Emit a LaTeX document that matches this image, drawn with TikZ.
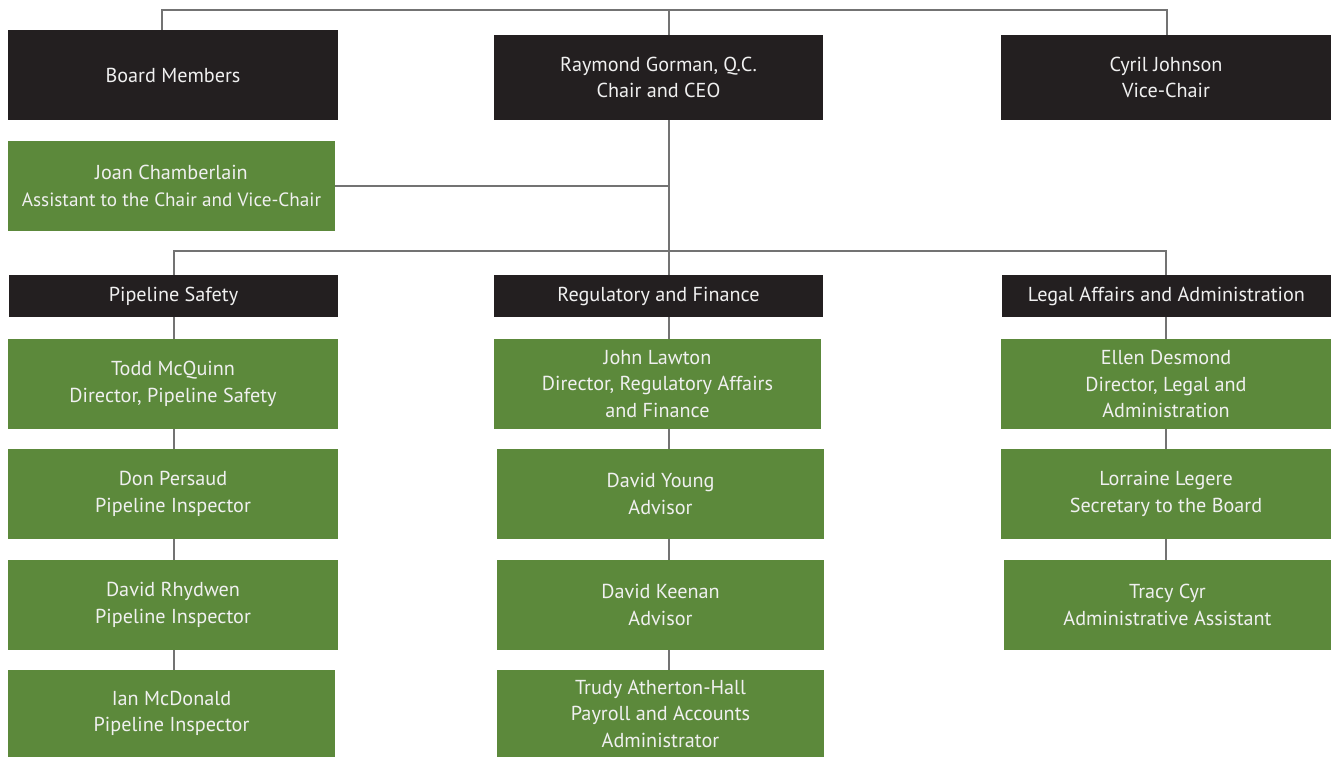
\documentclass[tikz,border=0pt]{standalone}
\usepackage{fontspec}
\setmainfont{PT Sans}
\usetikzlibrary{backgrounds}
\definecolor{OrgDark}{RGB}{35,31,32}
\definecolor{OrgGreen}{RGB}{92,137,59}
\definecolor{OrgLine}{RGB}{115,115,115}
\begin{document}
\begin{tikzpicture}[
  x=1pt,y=-1pt,
  unit/.style={inner sep=0pt,align=center,text=white!94!black,font=\fontsize{20.2}{26.5}\selectfont},
  head/.style={unit,fill=OrgDark},
  staff/.style={unit,fill=OrgGreen},
  link/.style={draw=OrgLine,line width=1.4pt}
]
\useasboundingbox (0,0) rectangle (1331,757);
\node[head,minimum width=330,minimum height=90] (board) at (173,75) {Board Members};
\node[head,minimum width=329,minimum height=85] (chair) at (658.5,77.5) {Raymond Gorman, Q.C.\\Chair and CEO};
\node[head,minimum width=330,minimum height=85] (vice) at (1166,77.5) {Cyril Johnson\\Vice-Chair};
\node[staff,minimum width=327,minimum height=90] (joan) at (171.5,186) {Joan Chamberlain\\{\fontsize{19.2}{26.5}\selectfont Assistant to the Chair and Vice-Chair}};

\node[head,minimum width=329,minimum height=42] (pipe) at (173.5,296) {Pipeline Safety};
\node[head,minimum width=329,minimum height=42] (regfin) at (658.5,296) {Regulatory and Finance};
\node[head,minimum width=329,minimum height=42] (legal) at (1166.5,296) {Legal Affairs and Administration};

\node[staff,minimum width=330,minimum height=90] (todd) at (173,384) {Todd McQuinn\\Director, Pipeline Safety};
\node[staff,minimum width=330,minimum height=90] (don) at (173,494) {Don Persaud\\Pipeline Inspector};
\node[staff,minimum width=330,minimum height=90] (rhydwen) at (173,605) {David Rhydwen\\Pipeline Inspector};
\node[staff,minimum width=327,minimum height=87] (ian) at (171.5,713.5) {Ian McDonald\\Pipeline Inspector};

\node[staff,minimum width=327,minimum height=90] (lawton) at (657.5,384) {John Lawton\\Director, Regulatory Affairs\\and Finance};
\node[staff,minimum width=327,minimum height=90] (young) at (660.5,494) {David Young\\Advisor};
\node[staff,minimum width=327,minimum height=90] (keenan) at (660.5,605) {David Keenan\\Advisor};
\node[staff,minimum width=327,minimum height=87] (trudy) at (660.5,713.5) {Trudy Atherton-Hall\\Payroll and Accounts\\Administrator};

\node[staff,minimum width=330,minimum height=90] (ellen) at (1166,384) {Ellen Desmond\\Director, Legal and\\Administration};
\node[staff,minimum width=330,minimum height=90] (lorraine) at (1166,494) {Lorraine Legere\\Secretary to the Board};
\node[staff,minimum width=327,minimum height=90] (tracy) at (1167.5,605) {Tracy Cyr\\Administrative Assistant};

\coordinate (t1) at (162,10); \coordinate (t2) at (669,10); \coordinate (t3) at (1167,10);
\coordinate (c1) at (174,251); \coordinate (c2) at (669,251); \coordinate (c3) at (1166,251);

\begin{scope}[on background layer]
\draw[link] (t1 |- board.north) -- (t1) -- (t3) -- (t3 |- vice.north);
\draw[link] (t2) -- (c2) -- (c2 |- trudy.north);
\draw[link] (joan.east) -- (joan.east -| t2);
\draw[link] (c1 |- ian.north) -- (c1) -- (c3) -- (c3 |- tracy.north);
\end{scope}
\end{tikzpicture}
\end{document}
